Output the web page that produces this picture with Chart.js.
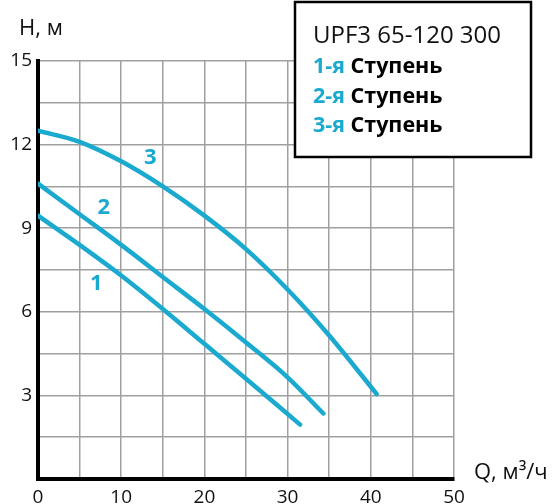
<!DOCTYPE html>
<html>
<head>
<meta charset="utf-8">
<script src="https://cdn.jsdelivr.net/npm/chart.js@4.4.1/dist/chart.umd.min.js"></script>
<style>
  html, body { margin: 0; padding: 0; background: #fff; }
  #wrap { width: 560px; height: 504px; }
</style>
</head>
<body>
<div id="wrap"><canvas id="pump-chart" width="560" height="504"></canvas></div>
<script>
// Q (m3/h) and H (m), one pair per stage
const flow1 = [0, 5, 10, 15, 20, 25, 31.5];
const head1 = [9.45, 8.4, 7.3, 6.1, 4.85, 3.6, 1.95];
const flow2 = [0, 5, 10, 15, 20, 25, 30, 34.3];
const head2 = [10.6, 9.5, 8.4, 7.25, 6.1, 4.9, 3.65, 2.35];
const flow3 = [0, 5, 10, 15, 20, 25, 30, 35, 40.7];
const head3 = [12.5, 12.1, 11.4, 10.5, 9.45, 8.25, 6.8, 5.15, 3.05];

// number tags next to each curve
const stageTags = ['1', '2', '3'];
const tagQ = [7.0, 7.9, 13.5];
const tagH = [7.0, 9.73, 11.52];

const legendTitle = 'UPF3 65-120 300';
const legendItems = ['1-я', '2-я', '3-я'];
const legendWord = 'Ступень';

const blue = '#1aa9cf';
const font = "'Open Sans', 'DejaVu Sans', sans-serif";

function toPoints(xs, ys) {
    return xs.map((x, i) => ({ x: x, y: ys[i] }));
}

function curve(xs, ys) {
    return {
        data: toPoints(xs, ys),
        borderColor: blue,
        borderWidth: 4.5,
        borderCapStyle: 'round',
        pointRadius: 0,
        cubicInterpolationMode: 'monotone',
        fill: false
    };
}

// axis titles, curve numbers and the model box
const extras = {
    id: 'extras',
    afterDatasetsDraw(chart) {
        const c = chart.ctx;
        const xs = chart.scales.x, ys = chart.scales.y;
        c.save();
        c.textBaseline = 'middle';

        c.fillStyle = blue;
        c.textAlign = 'center';
        c.font = 'bold 22px ' + font;
        stageTags.forEach((t, i) => {
            c.fillText(t, xs.getPixelForValue(tagQ[i]), ys.getPixelForValue(tagH[i]));
        });

        c.fillStyle = '#111';
        c.textAlign = 'left';
        c.font = '22px ' + font;
        c.fillText('H, м', 19, 29);
        c.fillText('Q, м³/ч', 474, 473);

        // box over the grid
        c.fillStyle = '#fff';
        c.fillRect(295, 2, 236, 155);
        c.strokeStyle = '#000';
        c.lineWidth = 2.5;
        c.strokeRect(295, 2, 236, 155);

        c.textBaseline = 'alphabetic';
        c.fillStyle = '#111';
        c.font = '24px ' + font;
        c.fillText(legendTitle, 313, 43);
        c.font = 'bold 21.5px ' + font;
        legendItems.forEach((s, i) => {
            const y = 73 + i * 29.5;
            c.fillStyle = blue;
            c.fillText(s, 313, y);
            const w = c.measureText(s + ' ').width;
            c.fillStyle = '#000';
            c.fillText(legendWord, 313 + w, y);
        });
        c.restore();
    }
};

const chartConfig = {
    type: 'line',
    data: {
        datasets: [curve(flow1, head1), curve(flow2, head2), curve(flow3, head3)]
    },
    options: {
        responsive: false,
        animation: false,
        layout: { padding: { left: 0, top: 61, right: 106, bottom: 0 } },
        plugins: { legend: { display: false }, tooltip: { enabled: false } },
        scales: {
            x: {
                type: 'linear',
                min: 0,
                max: 50,
                afterFit(scale) { scale.height = 25; },
                grid: { color: '#a0a0a0', lineWidth: 1.5, drawTicks: false },
                border: { color: '#000', width: 4 },
                ticks: {
                    stepSize: 5,
                    padding: 7,
                    color: '#111',
                    font: { size: 19, family: font },
                    maxRotation: 0,
                    callback: v => (v % 10 === 0 ? String(v) : '')
                }
            },
            y: {
                min: 0,
                max: 15,
                afterFit(scale) { scale.width = 38; },
                grid: { color: '#a0a0a0', lineWidth: 1.5, drawTicks: false },
                border: { color: '#000', width: 4 },
                ticks: {
                    stepSize: 1.5,
                    padding: 6,
                    color: '#111',
                    font: { size: 19, family: font },
                    callback: v => (v > 0 && Math.abs(v % 3) < 1e-9 ? String(v) : '')
                }
            }
        }
    },
    plugins: [extras]
};

const ctx = document.getElementById('pump-chart').getContext('2d');
new Chart(ctx, chartConfig);
</script>
</body>
</html>
